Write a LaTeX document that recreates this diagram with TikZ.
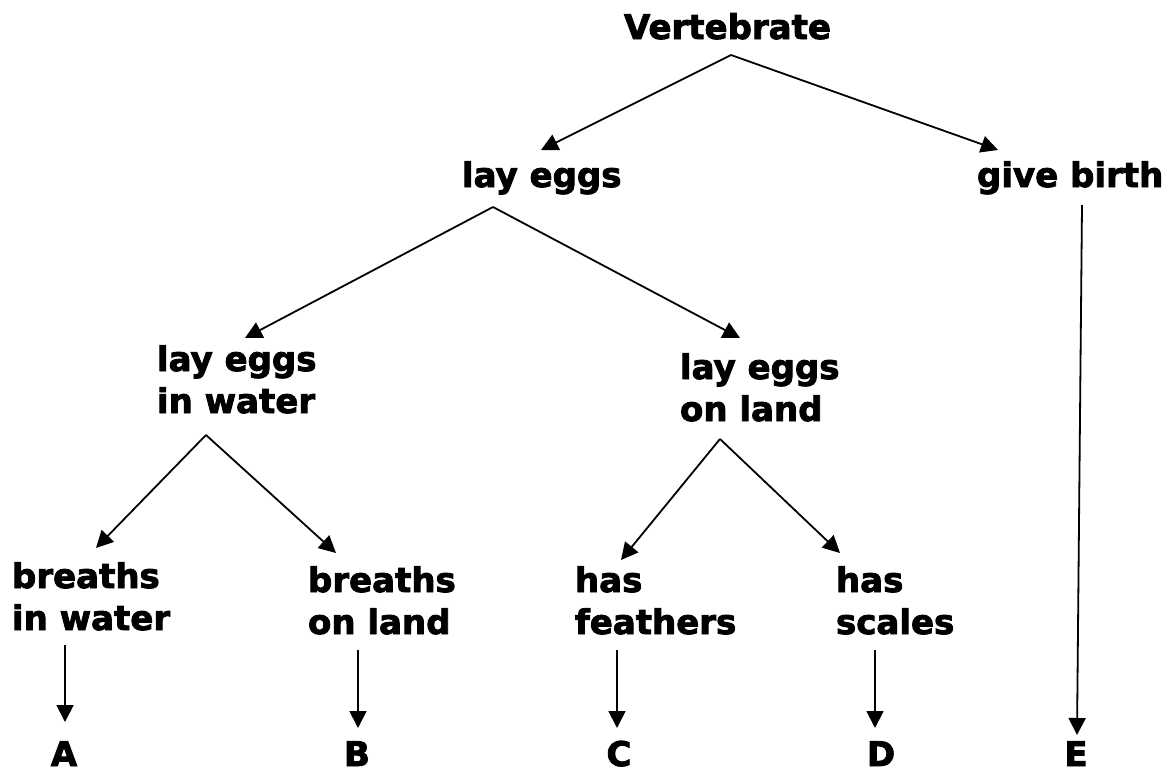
\documentclass[tikz,border=0pt]{standalone}
\usepackage{fontspec}
\setmainfont{DejaVu Sans}[BoldFeatures={FakeBold=2.5}]
\usetikzlibrary{arrows.meta,calc}
\begin{document}
\begin{tikzpicture}[x=1pt,y=-1pt,
  lbl/.style={inner sep=0pt, outer sep=0pt, font=\fontsize{34}{42}\selectfont\bfseries, align=left, anchor=base west},
  letter/.style={inner sep=0pt, outer sep=0pt, font=\fontsize{34}{42}\selectfont\bfseries, anchor=base},
  arr/.style={line width=1.8pt, -{Triangle[width=17pt,length=17pt]}}]
\useasboundingbox (0,0) rectangle (1170,772);
% nodes (anchor = baseline of the last line)
\node[lbl] (v) at (624,39) {Vertebrate};
\node[lbl] (le) at (462,187) {lay eggs};
\node[lbl] (gb) at (977,187) {give birth};
\node[lbl] (leiw) at (157,413) {lay eggs\\in water};
\node[lbl] (leol) at (680,421) {lay eggs\\on land};
\node[lbl] (biw) at (12,630) {breaths\\in water};
\node[lbl] (bol) at (308,634) {breaths\\on land};
\node[lbl] (hf) at (575,634) {has\\feathers};
\node[lbl] (hs) at (836,634) {has\\scales};
\node[letter] (A) at (64,766) {A};
\node[letter] (B) at (357,766) {B};
\node[letter] (C) at (619,766) {C};
\node[letter] (D) at (881,766) {D};
\node[letter] (E) at (1076,766) {E};
% connectors
\draw[arr] ($(v.base west)+(107,16)$) -- ($(le.base west)+(79,-37)$);
\draw[arr] ($(v.base west)+(107,16)$) -- ($(gb.base west)+(21,-37)$);
\draw[arr] ($(le.base west)+(31,20)$) -- ($(leiw.base west)+(88,-75)$);
\draw[arr] ($(le.base west)+(31,20)$) -- ($(leol.base west)+(60,-83)$);
\draw[arr] ($(gb.base west)+(105,18)$) -- ($(E.base)+(1,-31)$);
\draw[arr] ($(leiw.base west)+(49,22)$) -- ($(biw.base west)+(84,-82)$);
\draw[arr] ($(leiw.base west)+(49,22)$) -- ($(bol.base west)+(28,-81)$);
\draw[arr] ($(leol.base west)+(40,18)$) -- ($(hf.base west)+(46,-74)$);
\draw[arr] ($(leol.base west)+(40,18)$) -- ($(hs.base west)+(4,-81)$);
\draw[arr] ($(biw.base west)+(53,15)$) -- ($(A.base)+(1,-44)$);
\draw[arr] ($(bol.base west)+(50,16)$) -- ($(B.base)+(1,-38)$);
\draw[arr] ($(hf.base west)+(42,16)$) -- ($(C.base)+(-2,-38)$);
\draw[arr] ($(hs.base west)+(39,16)$) -- ($(D.base)+(-6,-38)$);
\end{tikzpicture}
\end{document}
